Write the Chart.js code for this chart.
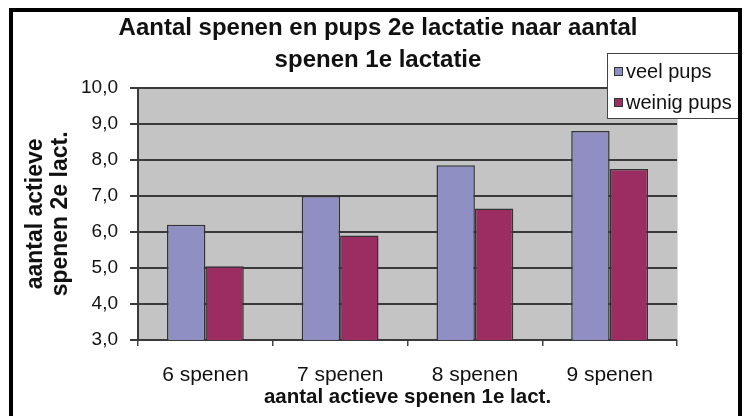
<!DOCTYPE html>
<html>
<head>
<meta charset="utf-8">
<script src="https://cdn.jsdelivr.net/npm/chart.js@4"></script>
<style>
  body { margin: 0; background: #fff; }
  canvas { display: block; }
</style>
</head>
<body>
<canvas id="lactatieChart" width="746" height="416"></canvas>
<script>
// data
const categories = ["6 spenen", "7 spenen", "8 spenen", "9 spenen"];
const seriesNames = ["veel pups", "weinig pups"];
const veelPups = [6.2, 7.0, 7.85, 8.8];
const weinigPups = [5.05, 5.9, 6.65, 7.75];
const yMin = 3;
const yMax = 10;
const yStep = 1;

const FONT = "'Liberation Sans', Arial, sans-serif";

// grey plot area + outer frame + legend box
const decorPlugin = {
  id: "decor",
  beforeDraw(chart) {
    const { ctx, chartArea: a } = chart;
    ctx.save();
    ctx.fillStyle = "#c4c4c4";
    ctx.fillRect(a.left, a.top, a.right - a.left, a.bottom - a.top);
    ctx.strokeStyle = "#dadada";
    ctx.lineWidth = 1;
    ctx.beginPath();
    ctx.moveTo(a.right + 0.5, a.top);
    ctx.lineTo(a.right + 0.5, a.bottom);
    ctx.stroke();
    ctx.restore();
  },
  afterDraw(chart) {
    const ctx = chart.ctx;
    ctx.save();
    // legend
    const lx = 607, ly = 53, lw = 131, lh = 65;
    ctx.fillStyle = "#fff";
    ctx.fillRect(lx, ly, lw, lh);
    ctx.strokeStyle = "#444";
    ctx.lineWidth = 1;
    ctx.strokeRect(lx + 0.5, ly + 0.5, lw, lh);
    chart.data.datasets.forEach(function (ds, i) {
      const cy = 72 + i * 31;
      ctx.fillStyle = ds.backgroundColor;
      ctx.fillRect(614, cy - 5, 9, 9);
      ctx.strokeStyle = "#333";
      ctx.strokeRect(614.5, cy - 4.5, 8, 8);
      ctx.fillStyle = "#111";
      ctx.font = "20px " + FONT;
      ctx.textBaseline = "middle";
      ctx.textAlign = "left";
      ctx.fillText(ds.label, 626, cy);
    });
    // outer frame
    ctx.strokeStyle = "#000";
    ctx.lineWidth = 4;
    ctx.strokeRect(11, 10, 729, 440);
    ctx.restore();
  },
};

new Chart(document.getElementById("lactatieChart"), {
  type: "bar",
  data: {
    labels: categories,
    datasets: [
      {
        label: seriesNames[0],
        data: veelPups,
        backgroundColor: "#8f8fc4",
        borderColor: "#333",
        borderWidth: 1.5,
      },
      {
        label: seriesNames[1],
        data: weinigPups,
        backgroundColor: "#9b2d62",
        borderColor: "#333",
        borderWidth: 1.5,
      },
    ],
  },
  options: {
    responsive: false,
    animation: false,
    categoryPercentage: 0.57,
    barPercentage: 1.0,
    layout: { padding: { left: 10, right: 0, top: 0, bottom: 0 } },
    plugins: {
      legend: { display: false },
      tooltip: { enabled: false },
      title: {
        display: true,
        text: ["Aantal spenen en pups 2e lactatie naar aantal", "spenen 1e lactatie"],
        color: "#111",
        font: { family: FONT, size: 24, weight: "bold", lineHeight: 1.33 },
        padding: { top: 12.5, bottom: 11.5 },
      },
    },
    scales: {
      x: {
        grid: { drawOnChartArea: false, drawTicks: true, tickLength: 6, color: "#444", lineWidth: 1.5 },
        border: { display: false },
        ticks: { color: "#111", font: { family: FONT, size: 21 }, padding: 17 },
        title: {
          display: true,
          text: "aantal actieve spenen 1e lact.",
          color: "#111",
          font: { family: FONT, size: 20.5, weight: "bold" },
          padding: { top: 0, bottom: 6 },
        },
        afterFit(s) { s.height = 76; },
      },
      y: {
        min: yMin,
        max: yMax,
        ticks: {
          stepSize: yStep,
          color: "#111",
          font: { family: FONT, size: 19 },
          padding: 12,
          callback: function (v) { return v.toFixed(1).replace(".", ","); },
        },
        grid: { color: "#3a3a3a", lineWidth: 2, tickLength: 8 },
        border: { color: "#3a3a3a", width: 2 },
        title: {
          display: true,
          text: ["aantal actieve", "spenen 2e lact."],
          color: "#111",
          font: { family: FONT, size: 23, weight: "bold", lineHeight: 1.1 },
          padding: { top: 13, bottom: 0 },
        },
        afterFit(s) { s.width = 128; },
      },
      y2: {
        position: "right",
        display: true,
        grid: { display: false },
        border: { display: false },
        ticks: { display: false },
        afterFit(s) { s.width = 69; },
      },
    },
  },
  plugins: [decorPlugin],
});
</script>
</body>
</html>
